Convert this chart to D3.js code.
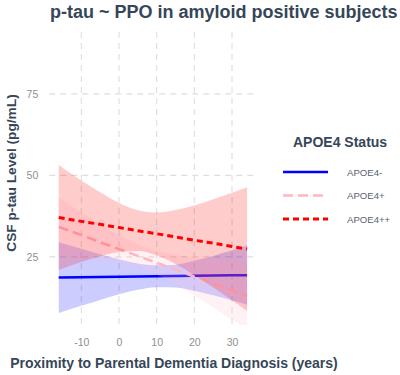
<!DOCTYPE html>
<html>
<head>
<meta charset="utf-8">
<script src="https://cdn.jsdelivr.net/npm/d3@7"></script>
<style>
  html, body { margin: 0; padding: 0; background: #fff; }
  svg { display: block; font-family: "Liberation Sans", Arial, sans-serif; }
</style>
</head>
<body>
<svg id="chart" width="400" height="375"></svg>
<script>
// ---- data ----
const xVals = [-16, -10, -5, 0, 5, 10, 15, 20, 25, 30, 34];

const negFit   = [18.65, 18.74, 18.82, 18.89, 18.97, 19.04, 19.12, 19.19, 19.27, 19.34, 19.4];
const negLower = [7.8, 10.0, 11.8, 13.5, 14.9, 15.7, 15.6, 14.6, 13.2, 11.6, 10.3];
const negUpper = [29.5, 27.5, 25.8, 24.3, 23.0, 22.4, 22.6, 23.8, 25.3, 27.0, 28.5];

const posFit   = [34.2, 31.7, 29.5, 27.4, 25.3, 23.2, 21.1, 18.9, 16.8, 14.7, 13.0];
const posLower = [25.2, 24.6, 24.0, 23.1, 21.8, 19.6, 16.6, 13.1, 9.5, 5.7, 2.7];
const posUpper = [43.2, 38.7, 35.1, 31.7, 28.8, 26.8, 25.6, 24.8, 24.2, 23.7, 23.3];

const ppFit    = [37.1, 35.9, 35.0, 34.0, 33.0, 32.1, 31.1, 30.1, 29.2, 28.2, 27.4];
const ppLower  = [21.0, 23.4, 25.2, 26.5, 26.8, 25.5, 22.8, 19.4, 15.6, 11.7, 8.4];
const ppUpper  = [53.2, 48.4, 44.8, 41.5, 39.3, 38.6, 39.4, 40.8, 42.7, 44.7, 46.4];

const groups = ["APOE4-", "APOE4+", "APOE4++"];
const xTicks = [-10, 0, 10, 20, 30];
const yTicks = [25, 50, 75];

const titleText = "p-tau ~ PPO in amyloid positive subjects";
const xTitle = "Proximity to Parental Dementia Diagnosis (years)";
const yTitle = "CSF p-tau Level (pg/mL)";
const legendTitle = "APOE4 Status";

// ---- styles ----
const lineColor = { "APOE4-": "#0000ff", "APOE4+": "#ffb6c1", "APOE4++": "#ff0000" };
const fillColor = { "APOE4-": "rgba(0,0,255,0.2)", "APOE4+": "rgba(255,192,203,0.2)", "APOE4++": "rgba(255,0,0,0.2)" };
const dash = { "APOE4-": null, "APOE4+": "10,5", "APOE4++": "6,4" };
const lw = { "APOE4-": 2.5, "APOE4+": 2.5, "APOE4++": 3 };
const textDark = "#364659";

const series = [
  { key: "APOE4-", fit: negFit, lo: negLower, hi: negUpper },
  { key: "APOE4+", fit: posFit, lo: posLower, hi: posUpper },
  { key: "APOE4++", fit: ppFit, lo: ppLower, hi: ppUpper }
];

// ---- layout ----
const panel = { left: 49.3, right: 256.5, top: 32, bottom: 325 };
const svg = d3.select("#chart");

const x = d3.scaleLinear().domain([-18.5, 36.5]).range([panel.left, panel.right]);
const y = d3.scaleLinear().domain([4.1, 94]).range([panel.bottom, panel.top]);

svg.append("defs").append("clipPath").attr("id", "clip")
  .append("rect")
  .attr("x", panel.left).attr("y", panel.top)
  .attr("width", panel.right - panel.left).attr("height", panel.bottom - panel.top);

// grid
const grid = svg.append("g");
grid.selectAll("line.v").data(xTicks).join("line")
  .attr("x1", d => x(d)).attr("x2", d => x(d))
  .attr("y1", panel.top).attr("y2", panel.bottom)
  .attr("stroke", "#dedede").attr("stroke-width", 1.1).attr("stroke-dasharray", "6,5");
grid.selectAll("line.h").data(yTicks).join("line")
  .attr("y1", d => y(d)).attr("y2", d => y(d))
  .attr("x1", panel.left).attr("x2", panel.right)
  .attr("stroke", "#dedede").attr("stroke-width", 1.1).attr("stroke-dasharray", "6,5");

// axes (no domain lines, no ticks)
const fmt = d => String(d); // hyphen-minus like the reference
const xAxis = svg.append("g")
  .attr("transform", `translate(0,${panel.bottom})`)
  .call(d3.axisBottom(x).tickValues(xTicks).tickFormat(fmt).tickSize(0).tickPadding(14));
const yAxis = svg.append("g")
  .attr("transform", `translate(${panel.left},0)`)
  .call(d3.axisLeft(y).tickValues(yTicks).tickFormat(fmt).tickSize(0).tickPadding(11));
[xAxis, yAxis].forEach(a => {
  a.select(".domain").remove();
  a.selectAll("text").attr("fill", "#8f8f8f").attr("font-size", 10.5)
    .attr("font-family", "'Liberation Sans', Arial, sans-serif");
});

// bands and lines
const plotG = svg.append("g").attr("clip-path", "url(#clip)");
series.forEach(s => {
  const pts = xVals.map((xv, i) => ({ x: xv, fit: s.fit[i], lo: s.lo[i], hi: s.hi[i] }));
  const area = d3.area().curve(d3.curveMonotoneX)
    .x(d => x(d.x)).y0(d => y(d.lo)).y1(d => y(d.hi));
  const line = d3.line().curve(d3.curveLinear)
    .x(d => x(d.x)).y(d => y(d.fit));
  plotG.append("path").datum(pts).attr("d", area).attr("fill", fillColor[s.key]);
  plotG.append("path").datum(pts).attr("d", line)
    .attr("fill", "none").attr("stroke", lineColor[s.key])
    .attr("stroke-width", lw[s.key])
    .attr("stroke-dasharray", dash[s.key]);
});

// titles
svg.append("text").attr("x", 50).attr("y", 18)
  .attr("font-size", 18).attr("font-weight", "bold").attr("fill", textDark)
  .text(titleText);
svg.append("text").attr("x", 174).attr("y", 368).attr("text-anchor", "middle")
  .attr("font-size", 14).attr("font-weight", "bold").attr("fill", textDark)
  .text(xTitle);
svg.append("text")
  .attr("transform", `translate(16,173) rotate(-90)`).attr("text-anchor", "middle")
  .attr("font-size", 13.7).attr("font-weight", "bold").attr("fill", textDark)
  .text(yTitle);

// legend
const leg = svg.append("g");
leg.append("text").attr("x", 293).attr("y", 147)
  .attr("font-size", 14).attr("font-weight", "bold").attr("fill", textDark)
  .text(legendTitle);
const legY = d3.scalePoint().domain(groups).range([172, 219]);
groups.forEach(g => {
  leg.append("line")
    .attr("x1", 283).attr("x2", 328).attr("y1", legY(g)).attr("y2", legY(g))
    .attr("stroke", lineColor[g]).attr("stroke-width", lw[g])
    .attr("stroke-dasharray", dash[g]);
  leg.append("text").attr("x", 347).attr("y", legY(g) + 3.5)
    .attr("font-size", 9.6).attr("fill", "#5a6270").text(g);
});
</script>
</body>
</html>
